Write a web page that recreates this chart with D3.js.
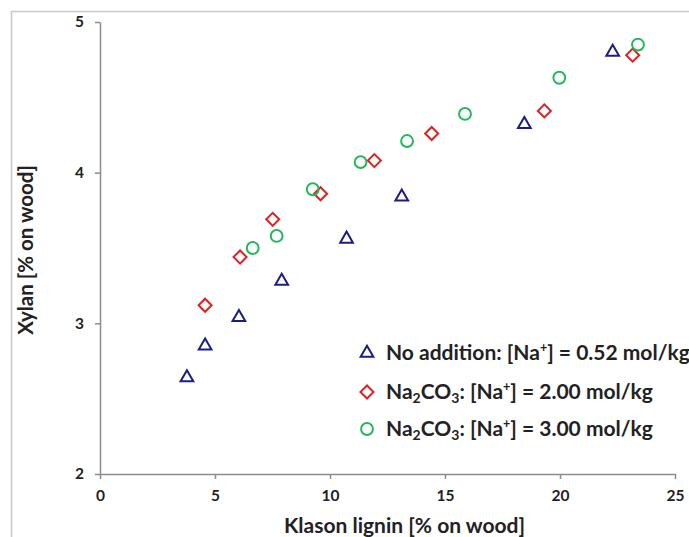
<!DOCTYPE html>
<html>
<head>
<meta charset="utf-8">
<script src="https://cdn.jsdelivr.net/npm/d3@7"></script>
<style>
  body { margin: 0; background: #fff; }
  text { font-family: Lato, "Open Sans", sans-serif; font-weight: bold; fill: #222; }
</style>
</head>
<body>
<script>
// Data: Klason lignin (x) vs Xylan (y), % on wood
var noAdditionX = [3.78, 4.57, 6.04, 7.9, 10.72, 13.12, 18.45, 22.29];
var noAdditionY = [2.64, 2.85, 3.04, 3.28, 3.56, 3.84, 4.32, 4.80];

var na2co3LowX = [4.57, 6.09, 7.51, 9.59, 11.93, 14.42, 19.32, 23.16];
var na2co3LowY = [3.12, 3.44, 3.69, 3.86, 4.08, 4.26, 4.41, 4.78];

var na2co3HighX = [6.64, 7.68, 9.25, 11.33, 13.35, 15.87, 19.97, 23.39];
var na2co3HighY = [3.50, 3.58, 3.89, 4.07, 4.21, 4.39, 4.63, 4.85];

var xTicks = [0, 5, 10, 15, 20, 25];
var yTicks = [2, 3, 4, 5];

var svgWidth = 689;
var svgHeight = 537;
var margin = { top: 22, right: 14, bottom: 63, left: 100 };
var width = svgWidth - margin.left - margin.right;
var height = svgHeight - margin.top - margin.bottom;

var svg = d3.select("body")
  .append("svg")
  .attr("width", svgWidth)
  .attr("height", svgHeight);

// chart border (top/left visible, the rest runs off the picture)
svg.append("rect")
  .attr("x", 11.5)
  .attr("y", 11.5)
  .attr("width", 700)
  .attr("height", 600)
  .attr("fill", "none")
  .attr("stroke", "#c8c8c8")
  .attr("stroke-width", 1.5);

var chartGroup = svg.append("g")
  .attr("transform", `translate(${margin.left}, ${margin.top})`);

var xScale = d3.scaleLinear().domain([0, 25]).range([0, width]);
var yScale = d3.scaleLinear().domain([2, 5]).range([height, 0]);

var bottomAxis = d3.axisBottom(xScale).tickValues(xTicks).tickFormat(d3.format("d")).tickSize(5).tickSizeOuter(0);
var leftAxis = d3.axisLeft(yScale).tickValues(yTicks).tickFormat(d3.format("d")).tickSize(5).tickSizeOuter(0);

var xAxisG = chartGroup.append("g")
  .attr("transform", `translate(0, ${height})`)
  .call(bottomAxis);

var yAxisG = chartGroup.append("g")
  .call(leftAxis);

[xAxisG, yAxisG].forEach(function (g) {
  g.select(".domain").attr("stroke", "#8c8c8c").attr("stroke-width", 1.5);
  g.selectAll(".tick line").attr("stroke", "#8c8c8c").attr("stroke-width", 1.5);
  g.selectAll(".tick text")
    .attr("font-family", "Lato, sans-serif")
    .attr("font-weight", "bold")
    .attr("font-size", 15.5)
    .attr("fill", "#222");
});
xAxisG.selectAll(".tick text").attr("y", 16).attr("dy", "0.71em");
yAxisG.selectAll(".tick text").attr("x", -16);

// axis titles
chartGroup.append("text")
  .attr("transform", `translate(${width / 2 + 17}, ${height + 59})`)
  .attr("text-anchor", "middle")
  .attr("font-size", 21)
  .text("Klason lignin [% on wood]");

chartGroup.append("text")
  .attr("transform", `translate(${-67}, ${height / 2 + 2}) rotate(-90)`)
  .attr("text-anchor", "middle")
  .attr("font-size", 20.5)
  .text("Xylan [% on wood]");

var navy = "#1c1c87";
var red = "#dd2222";
var green = "#22b85a";

var triangle = d3.symbol().type(d3.symbolTriangle).size(70);
var diamond = d3.symbol().type(d3.symbolSquare).size(85);
var circle = d3.symbol().type(d3.symbolCircle).size(110);

function drawSeries(xs, ys, sym, color, rotate) {
  chartGroup.append("g")
    .selectAll("path")
    .data(xs.map((x, i) => [x, ys[i]]))
    .enter()
    .append("path")
    .attr("d", sym)
    .attr("transform", d => `translate(${xScale(d[0])}, ${yScale(d[1])})` + (rotate ? " rotate(45)" : ""))
    .attr("fill", "none")
    .attr("stroke", color)
    .attr("stroke-width", 2);
}

drawSeries(noAdditionX, noAdditionY, triangle, navy, false);
drawSeries(na2co3LowX, na2co3LowY, diamond, red, true);
drawSeries(na2co3HighX, na2co3HighY, circle, green, false);

// legend
var legend = svg.append("g");
var legendRows = [
  { sym: triangle, color: navy, rot: false, y: 353 },
  { sym: diamond, color: red, rot: true, y: 392 },
  { sym: circle, color: green, rot: false, y: 429 }
];
legendRows.forEach(function (r) {
  legend.append("path")
    .attr("d", r.sym)
    .attr("transform", `translate(367, ${r.y})` + (r.rot ? " rotate(45)" : ""))
    .attr("fill", "none")
    .attr("stroke", r.color)
    .attr("stroke-width", 2);
});

function addLegendText(y, parts) {
  var t = legend.append("text")
    .attr("x", 386)
    .attr("y", y + 7)
    .attr("font-size", 21);
  parts.forEach(function (p) {
    var ts = t.append("tspan").text(p[0]);
    if (p[1] === "sub") ts.attr("font-size", 14).attr("dy", 4);
    if (p[1] === "sup") ts.attr("font-size", 12.5).attr("dy", -8);
    if (p[1] === "back") ts.attr("dy", -4);
    if (p[1] === "down") ts.attr("dy", 8);
  });
}

addLegendText(353, [["No addition: [Na"], ["+", "sup"], ["] = 0.52 mol/kg", "down"]]);
addLegendText(392, [["Na"], ["2", "sub"], ["CO", "back"], ["3", "sub"], [": [Na", "back"], ["+", "sup"], ["] = 2.00 mol/kg", "down"]]);
addLegendText(429, [["Na"], ["2", "sub"], ["CO", "back"], ["3", "sub"], [": [Na", "back"], ["+", "sup"], ["] = 3.00 mol/kg", "down"]]);
</script>
</body>
</html>
